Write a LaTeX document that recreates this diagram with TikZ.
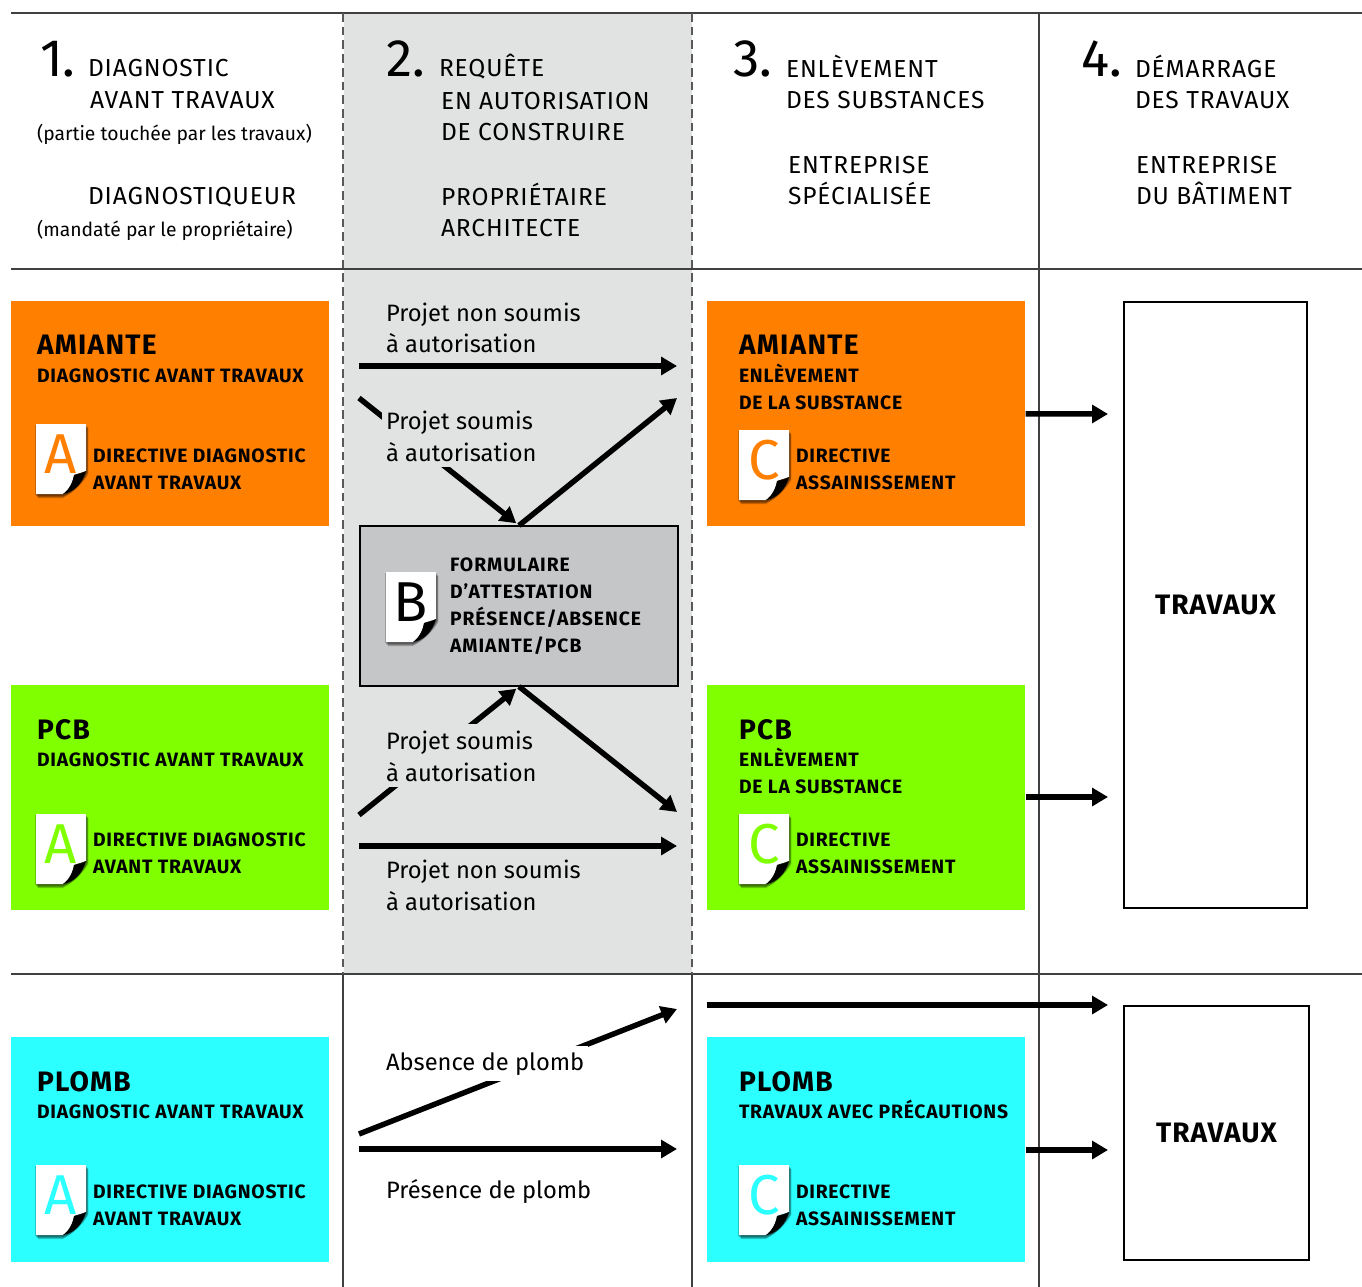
\documentclass[tikz,border=0pt]{standalone}
\usepackage{fontspec}
\setmainfont{Fira Sans}
\usepackage{xcolor}
\usetikzlibrary{arrows.meta}
\definecolor{panel}{HTML}{E1E3E2}
\definecolor{formgray}{HTML}{C5C6C8}
\definecolor{amiante}{HTML}{FF7F00}
\definecolor{pcb}{HTML}{80FF00}
\definecolor{plomb}{HTML}{2BFFFF}
\tikzset{
  rule/.style={line width=0.8pt,draw=black!75},
  dashrule/.style={line width=0.9pt,draw=black!65,dash pattern=on 5pt off 2.8pt},
  flow/.style={-{Triangle[length=9pt,width=10pt]},line width=3.1pt},
  txt/.style={anchor=base west,inner sep=0pt,outer sep=0pt,align=left},
  head/.style={txt,font=\fontsize{14}{18.14}\selectfont\addfontfeature{LetterSpace=3.5}},
  small/.style={txt,font=\fontsize{11}{18.14}\selectfont},
  num/.style={txt,font=\fontsize{30}{18.14}\selectfont},
  lab/.style={anchor=base west,inner xsep=2pt,inner ysep=3.5pt,outer sep=0pt,align=left,xshift=-2pt,font=\fontsize{13.5}{18.14}\selectfont},
  title/.style={txt,font=\bfseries\fontsize{16}{20}\selectfont\addfontfeature{LetterSpace=4.5}},
  sub/.style={txt,font=\bfseries\fontsize{11}{15.3}\selectfont\addfontfeature{LetterSpace=4}},
  formsub/.style={sub,font=\bfseries\fontsize{11}{15.3}\selectfont\addfontfeature{LetterSpace=5}},
  subst/.style={anchor=north west,minimum width=318*0.02cm,minimum height=225*0.02cm,inner sep=0pt},
  workbox/.style={draw=black,line width=0.9pt,inner sep=0pt,font=\bfseries\fontsize{16}{20}\selectfont\addfontfeature{LetterSpace=3.5}},
}
% sheet: name, corner, letter, colour
\newcommand{\sheet}[4]{
  \begin{scope}[shift={#2}]
    \foreach \off in {1,2,3,4}{
      \fill[black,opacity=0.22] (\off-2,\off) -- (50+\off*0.6,\off) -- (50+\off*0.6,46+\off) .. controls (46,60) and (38,68) .. (27,70+\off) -- (\off-2,70+\off) -- cycle;
    }
    \fill[white] (0,0) -- (50,0) -- (50,47) .. controls (44,49) and (40,50) .. (38,51) .. controls (37,58) and (33,66) .. (27,70) -- (0,70) -- cycle;
    \fill[black] (50,47) .. controls (46,60) and (38,68) .. (27,70) .. controls (33,66) and (37,58) .. (38,51) .. controls (42,50) and (47,49) .. (50,47) -- cycle;
    \node[inner sep=0pt,text=#4,font=\fontsize{32}{32}\selectfont] (#1) at (25,30) {#3};
  \end{scope}
}
\begin{document}
\begin{tikzpicture}[x=0.02cm,y=-0.02cm]
    \useasboundingbox (0,0) rectangle (1362,1287);
    \fill[panel] (344,14) rectangle (692,974);

    % rules
    \draw[rule] (11,13) -- (1362,13);
    \draw[rule] (11,269) -- (1362,269);
    \draw[rule] (11,974) -- (1362,974);
    \draw[dashrule] (343,13) -- (343,974);
    \draw[dashrule] (692,13) -- (692,974);
    \draw[rule] (343,974) -- (343,1287);
    \draw[rule] (692,974) -- (692,1287);
    \draw[rule] (1039,13) -- (1039,1287);

    % headers (a node sits on the baseline of its last line)
    \node[num] (n1) at (40,77) {1.};
    \node[head] (h1) at (88,77) {DIAGNOSTIC};
    \node[head] (h1b) at (90,109) {AVANT TRAVAUX};
    \node[small] (h1c) at (37,141) {(partie touchée par les travaux)};
    \node[head] (h1d) at (88,205) {DIAGNOSTIQUEUR};
    \node[small] (h1e) at (37,237) {(mandaté par le propriétaire)};
    \node[num] (n2) at (386,77) {2.};
    \node[head] (h2) at (439,77) {REQUÊTE};
    \node[head] (h2b) at (441,141) {EN AUTORISATION\\DE CONSTRUIRE};
    \node[head] (h2c) at (441,237) {PROPRIÉTAIRE\\ARCHITECTE};
    \node[num] (n3) at (733,77) {3.};
    \node[head] (h3) at (786,109) {ENLÈVEMENT\\DES SUBSTANCES};
    \node[head] (h3b) at (788,205) {ENTREPRISE\\SPÉCIALISÉE};
    \node[num] (n4) at (1081,77) {4.};
    \node[head] (h4) at (1135,109) {DÉMARRAGE\\DES TRAVAUX};
    \node[head] (h4b) at (1136,205) {ENTREPRISE\\DU BÂTIMENT};

    % diagnostic column
    \foreach \nm/\col/\yy/\sy/\ttl in {am/amiante/301/424/AMIANTE,pc/pcb/685/814/PCB,pl/plomb/1037/1165/PLOMB}{
        \node[subst,fill=\col] (\nm D) at (11,\yy) {};
        \node[title] (\nm Dt) at (37,\yy+54) {\ttl};
        \node[sub] (\nm Ds) at (37,\yy+81) {DIAGNOSTIC AVANT TRAVAUX};
        \sheet{\nm Dl}{(36,\sy)}{A}{\col}
        \node[sub] (\nm Dd) at (93,\yy+188) {DIRECTIVE DIAGNOSTIC\\AVANT TRAVAUX};
    }

    % removal column
    \foreach \nm/\col/\yy/\sy/\ttl/\by/\txt in {am/amiante/301/430/AMIANTE/108/{ENLÈVEMENT\\DE LA SUBSTANCE},pc/pcb/685/814/PCB/108/{ENLÈVEMENT\\DE LA SUBSTANCE},pl/plomb/1037/1165/PLOMB/81/{TRAVAUX AVEC PRÉCAUTIONS}}{
        \node[subst,fill=\col] (\nm R) at (707,\yy) {};
        \node[title] (\nm Rt) at (739,\yy+54) {\ttl};
        \node[sub] (\nm Rs) at (739,\yy+\by) {\txt};
        \sheet{\nm Rl}{(739,\sy)}{C}{\col}
        \node[sub] (\nm Rd) at (796,\yy+188) {DIRECTIVE\\ASSAINISSEMENT};
    }

    % form
    \node[draw=black,line width=0.6pt,fill=formgray,minimum width=318*0.02cm,minimum height=160*0.02cm,inner sep=0pt] (form) at (519,606) {};
    \sheet{forml}{(386,572)}{B}{black}
    \node[formsub] (formt) at (450,652) {FORMULAIRE\\D’ATTESTATION\\PRÉSENCE/ABSENCE\\AMIANTE/PCB};

    % works
    \node[workbox,minimum width=183*0.02cm,minimum height=606*0.02cm] (workA) at (1215.5,605) {TRAVAUX};
    \node[workbox,minimum width=185*0.02cm,minimum height=254*0.02cm] (workB) at (1216.5,1133) {TRAVAUX};

    % free ends
    \coordinate (s1) at (359,366);
    \coordinate (e1) at (677,366);
    \coordinate (s2) at (359,398);
    \coordinate (e2) at (677,398);
    \coordinate (s3) at (359,815);
    \coordinate (e3) at (677,812);
    \coordinate (s4) at (359,846);
    \coordinate (e4) at (677,846);
    \coordinate (s5) at (359,1134);
    \coordinate (e5) at (677,1009);
    \coordinate (s6) at (359,1149);
    \coordinate (e6) at (677,1149);
    \coordinate (s7) at (707,1005);
    \coordinate (e7) at (1108,1005);
    \coordinate (wa) at (1108,414);
    \coordinate (wb) at (1108,797);
    \coordinate (wc) at (1108,1150);

    % arrows
    \draw[flow] (s1) -- (e1);
    \draw[flow,shorten >=2pt] (s2) -- (form.north);
    \draw[flow] (form.north) -- (e2);
    \draw[flow,shorten >=2pt] (s3) -- (form.south);
    \draw[flow] (form.south) -- (e3);
    \draw[flow] (s4) -- (e4);
    \draw[flow] (s5) -- (e5);
    \draw[flow] (s6) -- (e6);
    \draw[flow] (s7) -- (e7);
    \draw[flow] (amR.west -| amR.east |- wa) -- (wa);
    \draw[flow] (pcR.east |- wb) -- (wb);
    \draw[flow] (plR.east |- wc) -- (wc);

    % labels
    \node[lab] (l1) at (386,353) {Projet non soumis\\à autorisation};
    \node[lab,fill=panel] (l2) at (386,461) {Projet soumis\\à autorisation};
    \node[lab,fill=panel] (l3) at (386,781) {Projet soumis\\à autorisation};
    \node[lab] (l4) at (386,910) {Projet non soumis\\à autorisation};
    \node[lab,fill=white] (l5) at (386,1070) {Absence de plomb};
    \node[lab] (l6) at (386,1198) {Présence de plomb};
\end{tikzpicture}
\end{document}
